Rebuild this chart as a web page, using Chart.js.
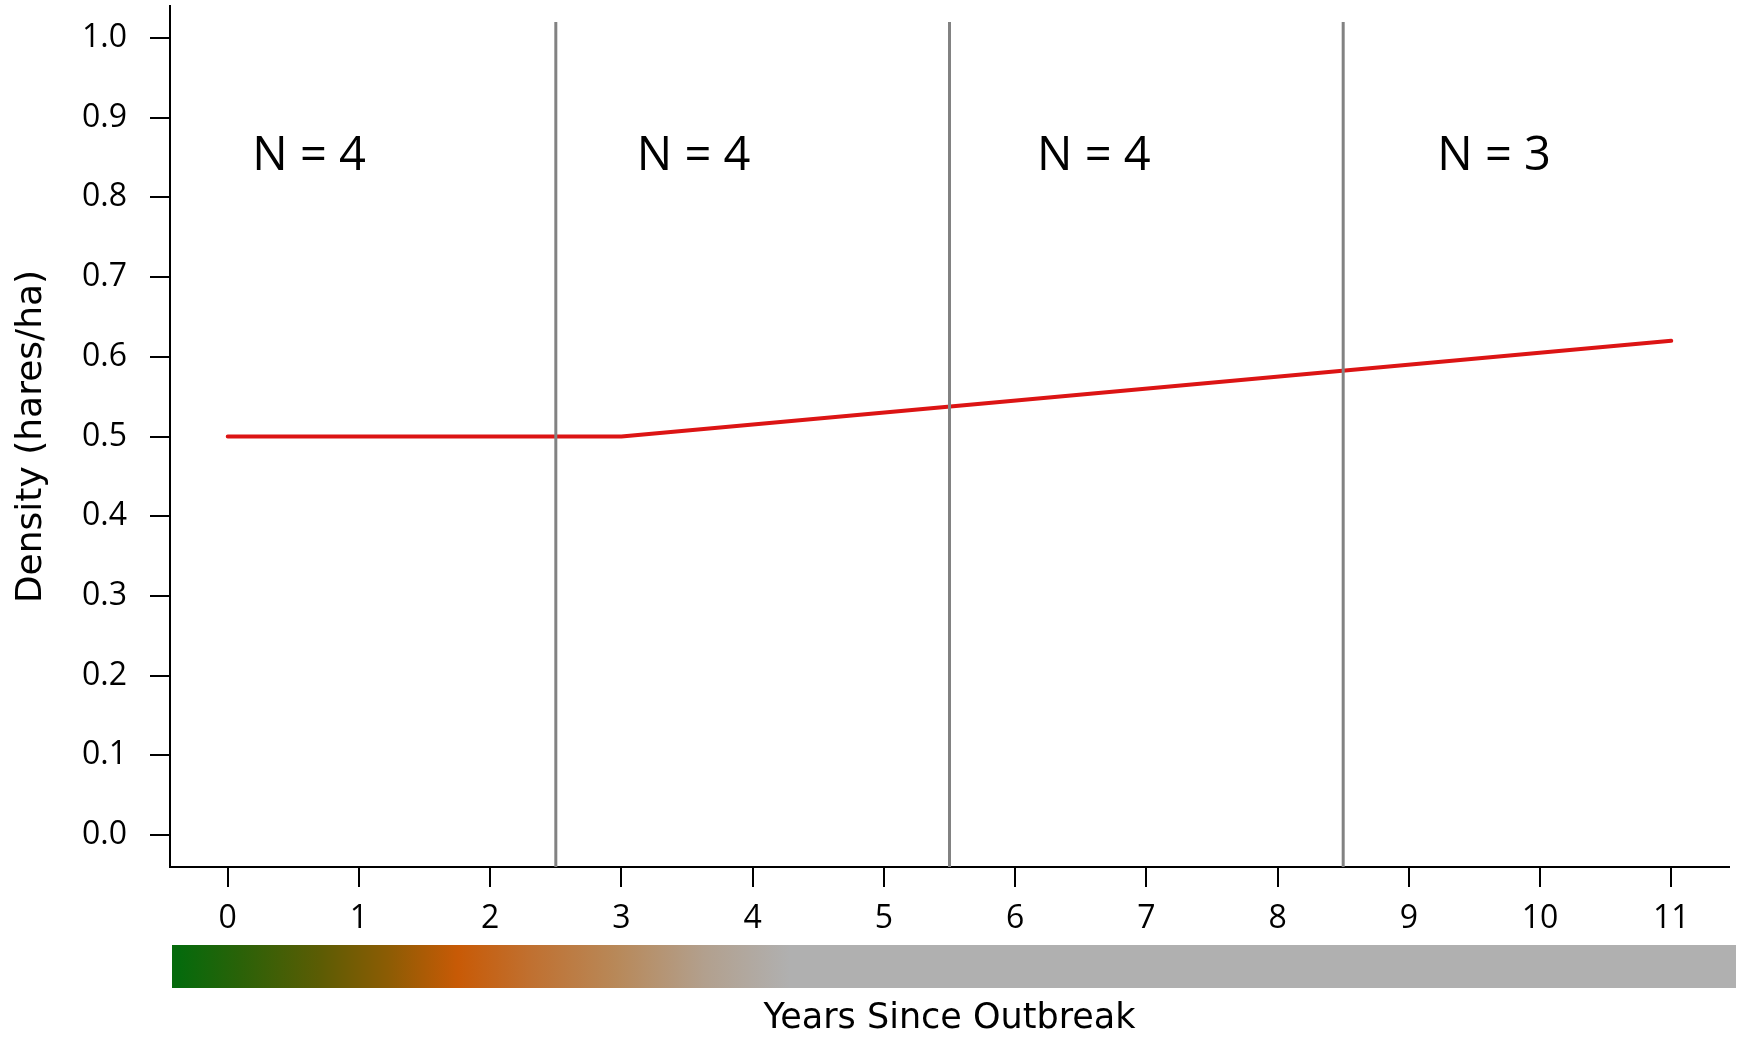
<!DOCTYPE html>
<html>
<head>
<meta charset="utf-8">
<script src="https://cdn.jsdelivr.net/npm/chart.js@4.4.1/dist/chart.umd.min.js"></script>
<style>
  html, body { margin: 0; padding: 0; background: #ffffff; }
  #wrap { width: 1738px; height: 1038px; position: relative; }
</style>
</head>
<body>
<div id="wrap"><canvas id="c" width="1738" height="1038"></canvas></div>
<script>
// ---- data ----
const lineYears = [0, 3, 11];
const lineDensity = [0.5, 0.5, 0.62];
const dividerYears = [2.5, 5.5, 8.5];
const dividerTop = 1.02;
const groupLabels = ["N = 4", "N = 4", "N = 4", "N = 3"];
const groupLabelYears = [0.62, 3.55, 6.60, 9.65];
const groupLabelDensity = 0.854;
const xTickValues = [0, 1, 2, 3, 4, 5, 6, 7, 8, 9, 10, 11];
const yTickValues = [0, 0.1, 0.2, 0.3, 0.4, 0.5, 0.6, 0.7, 0.8, 0.9, 1.0];
const xMin = -0.44, xMax = 11.44;
const yMin = -0.04, yMax = 1.04;
const xTitle = "Years Since Outbreak";
const yTitle = "Density (hares/ha)";

// ---- datasets ----
const datasets = [];
dividerYears.forEach(function (yr) {
  datasets.push({
    data: [{ x: yr, y: yMin }, { x: yr, y: dividerTop }],
    borderColor: '#828282',
    borderWidth: 3,
    pointRadius: 0,
    tension: 0
  });
});
datasets.push({
  data: lineYears.map(function (x, i) { return { x: x, y: lineDensity[i] }; }),
  borderColor: '#dc1414',
  borderWidth: 4,
  pointRadius: 0,
  tension: 0,
  borderCapStyle: 'round',
  borderJoinStyle: 'round'
});

function noPad(s) { s.paddingTop = 0; s.paddingBottom = 0; s.paddingLeft = 0; s.paddingRight = 0; }

const extras = {
  id: 'extras',
  beforeDatasetsDraw: function (chart) {
    const ctx = chart.ctx;
    const area = chart.chartArea;
    // gradient bar
    const x0 = area.left + 2, x1 = chart.width - 2;
    const top = 945, h = 43;
    const g = ctx.createLinearGradient(x0, 0, x1, 0);
    const w = x1 - x0;
    const stops = [
      [180, '#066a0c'], [240, '#2a6208'], [320, '#5c5c04'], [388, '#8c5c04'],
      [458, '#c85a06'], [530, '#c07030'], [615, '#b88858'], [705, '#b2a08e'],
      [790, '#b0b0b0']
    ];
    stops.forEach(function (s) {
      g.addColorStop(Math.max(0, Math.min(1, (s[0] - x0) / w)), s[1]);
    });
    g.addColorStop(1, '#b0b0b0');
    ctx.save();
    ctx.fillStyle = g;
    ctx.fillRect(x0, top, w, h);
    ctx.restore();
  },
  afterDraw: function (chart) {
    const ctx = chart.ctx;
    const xs = chart.scales.x, ys = chart.scales.y;
    ctx.save();
    ctx.fillStyle = '#000';
    ctx.font = '47px "Open Sans"';
    ctx.textAlign = 'center';
    ctx.textBaseline = 'middle';
    groupLabels.forEach(function (t, i) {
      ctx.fillText(t, xs.getPixelForValue(groupLabelYears[i]), ys.getPixelForValue(groupLabelDensity) + 2);
    });
    ctx.restore();
  }
};

new Chart(document.getElementById('c'), {
  type: 'line',
  data: { datasets: datasets },
  plugins: [extras],
  options: {
    responsive: false,
    animation: false,
    devicePixelRatio: 1,
    layout: { padding: { top: 6, right: 9, left: 0, bottom: 0 } },
    plugins: { legend: { display: false }, tooltip: { enabled: false } },
    scales: {
      x: {
        type: 'linear',
        min: xMin, max: xMax,
        afterBuildTicks: function (s) { s.ticks = xTickValues.map(function (v) { return { value: v }; }); },
        afterFit: function (s) { s.height = 171; noPad(s); },
        border: { display: true, color: '#000', width: 2 },
        grid: { drawOnChartArea: false, drawTicks: true, tickLength: 20, color: '#000', lineWidth: 2 },
        ticks: {
          color: '#000', padding: 13, maxRotation: 0, autoSkip: false,
          font: { family: '"Open Sans"', size: 32 },
          callback: function (v) { return String(v); }
        },
        title: {
          display: true, text: xTitle, color: '#000',
          font: { family: '"DejaVu Sans"', size: 35, lineHeight: 1 },
          padding: { top: 0, bottom: 2 }
        }
      },
      y: {
        type: 'linear',
        min: yMin, max: yMax,
        afterBuildTicks: function (s) { s.ticks = yTickValues.map(function (v) { return { value: v }; }); },
        afterFit: function (s) { s.width = 170; noPad(s); },
        border: { display: true, color: '#000', width: 2 },
        grid: { drawOnChartArea: false, drawTicks: true, tickLength: 20, color: '#000', lineWidth: 2 },
        ticks: {
          color: '#000', padding: 23, autoSkip: false,
          font: { family: '"Open Sans"', size: 32 },
          callback: function (v) { return Number(v).toFixed(1); }
        },
        title: {
          display: true, text: yTitle, color: '#000',
          font: { family: '"DejaVu Sans"', size: 36, lineHeight: 1 },
          padding: { top: 14, bottom: 0 }
        }
      }
    }
  }
});
</script>
</body>
</html>
